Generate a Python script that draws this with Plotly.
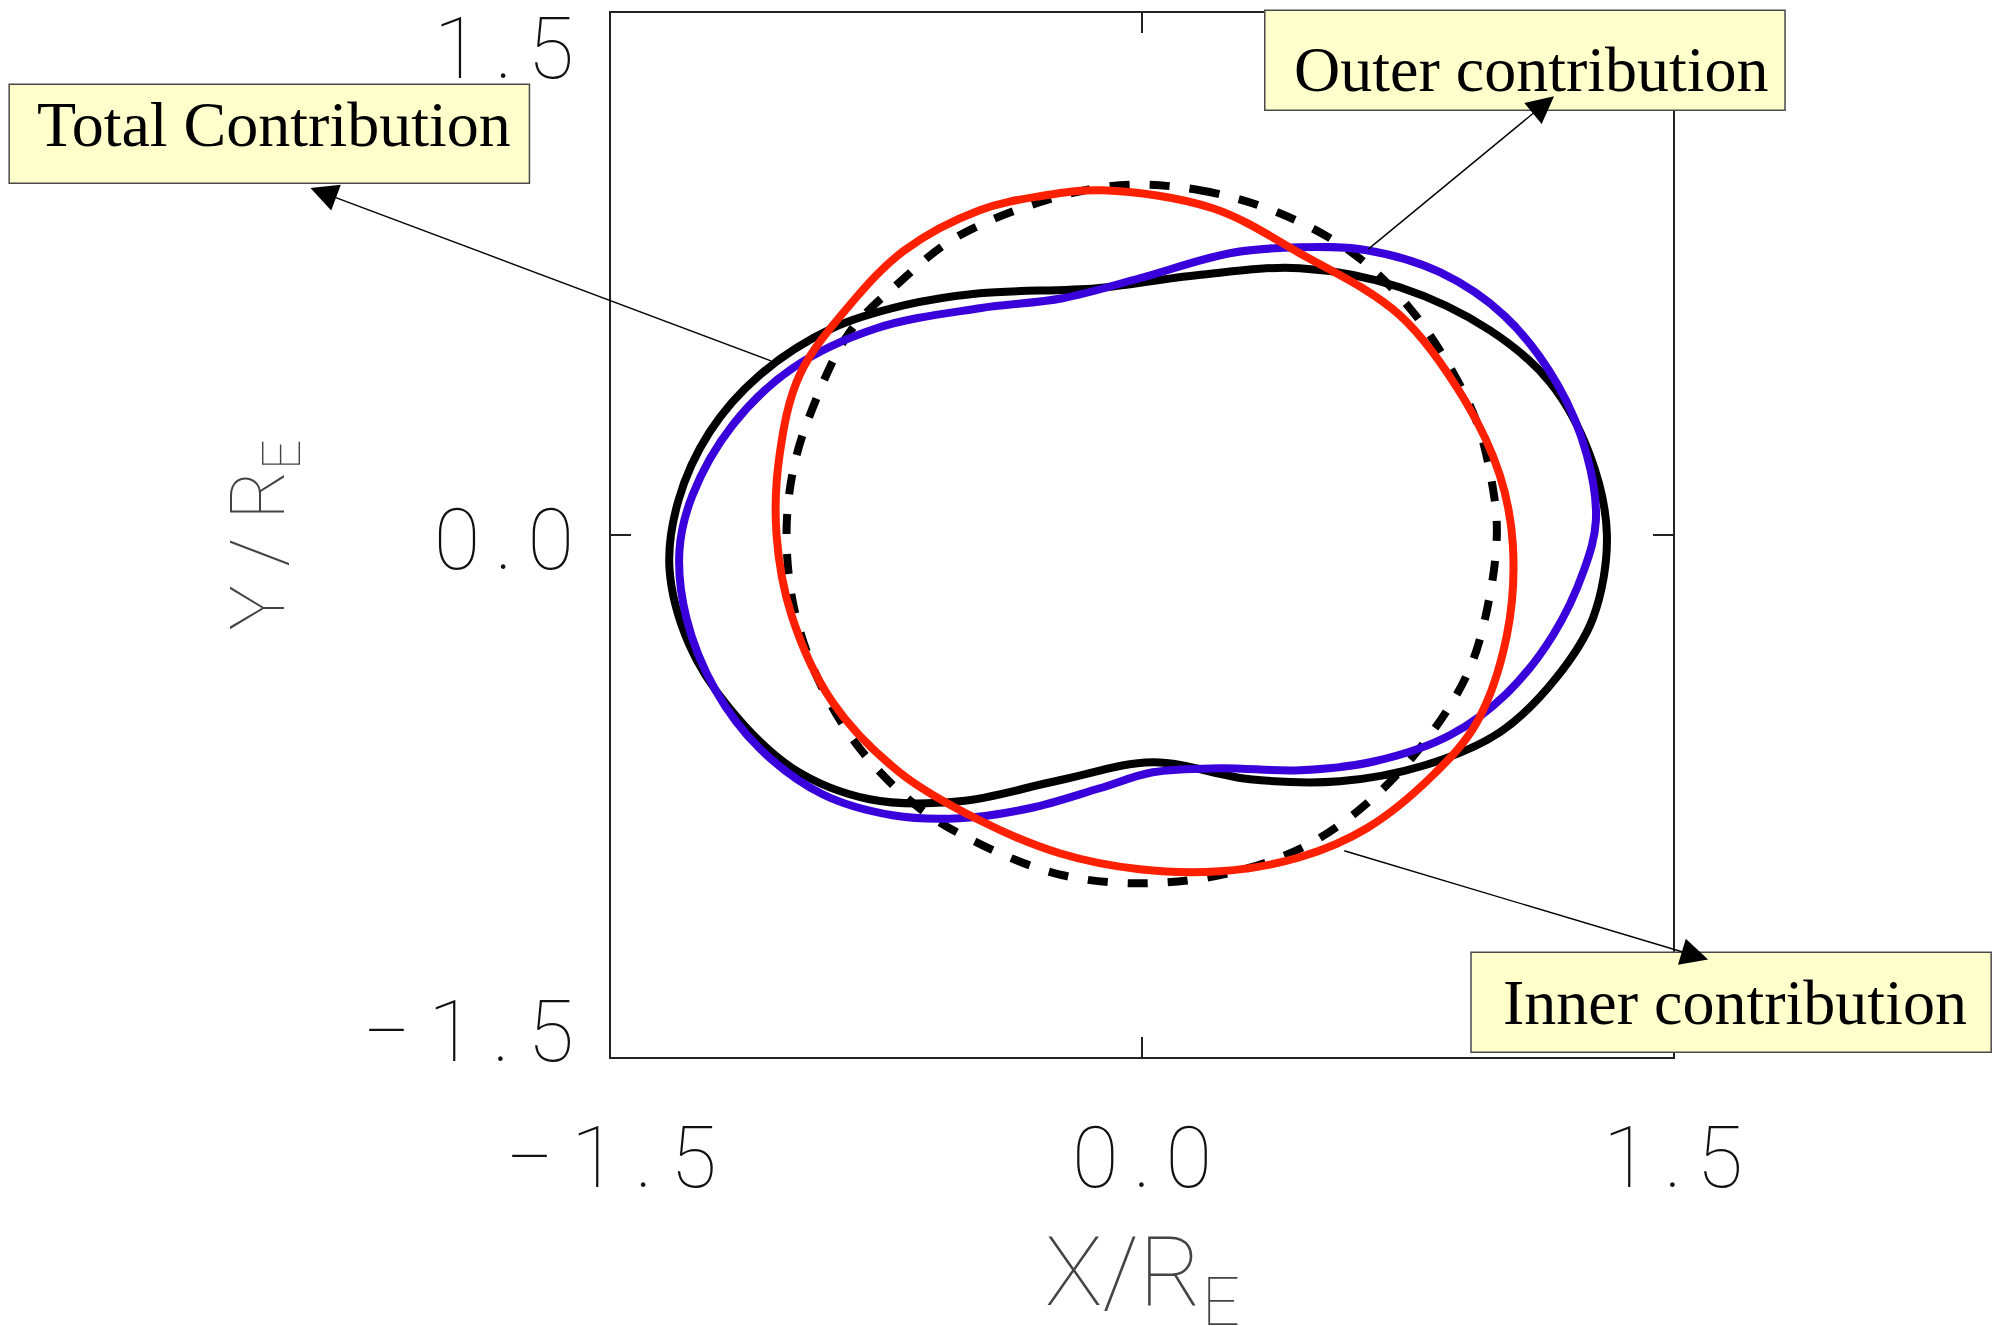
import plotly.graph_objects as go

# Closed contours in units of Earth radii, traced clockwise from the top.
# Total contribution (solid black)
total_x = [-0.4587, -0.1280, 0.1546, 0.4457, 0.7283, 0.9827, 1.1522, 1.2653, 1.3133, 1.2738,
           1.1692, 1.0109, 0.7990, 0.5587, 0.3044, 0.0302, -0.2326, -0.5152, -0.7696, -0.9872,
           -1.1652, -1.2783, -1.3348, -1.3094, -1.2218, -1.0805, -0.8741, -0.6707]
total_y = [0.6947, 0.7091, 0.7465, 0.7666, 0.7120, 0.5884, 0.4390, 0.2292, 0.0000, -0.2392,
           -0.4117, -0.5669, -0.6617, -0.7077, -0.7019, -0.6531, -0.7048, -0.7652, -0.7594, -0.6703,
           -0.4979, -0.3168, -0.0956, 0.0999, 0.2953, 0.4591, 0.5942, 0.6603]

# Outer contribution (blue)
outer_x = [-0.4587, -0.2241, -0.0065, 0.2479, 0.4457, 0.6350, 0.8414, 1.0251, 1.1749, 1.2568,
           1.2822, 1.2483, 1.1607, 1.0307, 0.8696, 0.6577, 0.4457, 0.2196, 0.0302, -0.1195,
           -0.3174, -0.5152, -0.7046, -0.9024, -1.0805, -1.2048, -1.2868, -1.3066, -1.2698, -1.1568,
           -0.9872, -0.7498]
outer_y = [0.6516, 0.6804, 0.7378, 0.8097, 0.8269, 0.8183, 0.7551, 0.6286, 0.4303, 0.2292,
           0.0424, -0.1013, -0.2881, -0.4548, -0.5755, -0.6502, -0.6761, -0.6703, -0.6818, -0.7278,
           -0.7853, -0.8140, -0.8054, -0.7450, -0.6128, -0.4462, -0.2392, -0.0438, 0.1142, 0.3154,
           0.4792, 0.5942]

# Inner contribution (red)
inner_x = [-0.1111, 0.1998, 0.4457, 0.7283, 0.9120, 1.0109, 1.0477, 1.0307, 0.9459, 0.8216,
           0.6350, 0.4457, 0.2196, -0.0065, -0.2326, -0.4587, -0.6848, -0.8741, -0.9900, -1.0324,
           -1.0239, -0.9674, -0.8261, -0.6707, -0.4587, -0.2891]
inner_y = [0.9907, 0.9390, 0.8097, 0.6315, 0.3872, 0.1717, -0.0295, -0.2881, -0.5381, -0.6904,
           -0.8427, -0.9261, -0.9663, -0.9606, -0.9146, -0.8198, -0.6818, -0.4806, -0.2306, 0.0000,
           0.2292, 0.4591, 0.6603, 0.8183, 0.9333, 0.9735]

# Reference contour (dashed black)
ref_x = [-0.0630, 0.1631, 0.3892, 0.5955, 0.7566, 0.8781, 0.9488, 0.9883, 1.0025, 0.9827,
         0.9261, 0.8131, 0.6520, 0.4655, 0.2563, 0.0133, -0.2241, -0.4502, -0.6283, -0.7978,
         -0.9109, -0.9815, -1.0042, -0.9844, -0.9307, -0.8261, -0.6848, -0.5293, -0.2891]
ref_y = [1.0051, 0.9907, 0.9246, 0.8097, 0.6516, 0.4677, 0.3154, 0.1516, 0.0137, -0.1731,
         -0.3829, -0.5755, -0.7565, -0.8916, -0.9692, -1.0008, -0.9778, -0.8916, -0.7853, -0.6128,
         -0.4232, -0.2163, 0.0000, 0.1918, 0.3642, 0.5826, 0.7263, 0.8528, 0.9562]

TS = "\u2009"  # thin space
SS = "\u2006"  # six-per-em space
tick_vals = [-1.5, 0.0, 1.5]
x_tick_text = [f"\u2212{TS}1{TS}.{TS}5", f"0{SS}.{SS}0", f"1{SS}.{SS}5"]
# y labels sit inside the frame span: top one below its tick, bottom one above
y_label_vals = [1.40, -0.011, -1.425]
y_label_text = [f"1{SS}.{SS}5", f"0{SS}.{SS}0", f"\u2212{TS}1{TS}.{TS}5"]

# Label texts with the curve point each arrow starts from and where it points to
label_texts = ["Total Contribution", "Outer contribution", "Inner contribution"]
arrow_tails = [(-1.044, 0.499), (0.635, 0.818), (0.567, -0.906)]
arrow_heads = [(-2.349, 0.997), (1.164, 1.261), (1.599, -1.220)]


def closed(v):
    return list(v) + [v[0]]


fig = go.Figure()

curve_specs = [
    (ref_x, ref_y, "black", "20px,20px"),
    (total_x, total_y, "black", "solid"),
    (outer_x, outer_y, "#3a00dc", "solid"),
    (inner_x, inner_y, "#ff2000", "solid"),
]
for cx, cy, col, dash in curve_specs:
    fig.add_trace(go.Scatter(
        x=closed(cx), y=closed(cy), mode="lines",
        line=dict(color=col, width=8, dash=dash, shape="spline", smoothing=1.0,
                  simplify=False),
        showlegend=False, hoverinfo="skip",
    ))

# empty trace so the label-only y axis is laid out
fig.add_trace(go.Scatter(x=[], y=[], yaxis="y2", showlegend=False, hoverinfo="skip"))

thin = "Roboto, Inter, DejaVu Sans"
tick_font = dict(family=thin, size=85, color="#111", weight=100)

fig.update_layout(
    template="none",
    width=2006, height=1326,
    margin=dict(l=611, r=333, t=13, b=269, autoexpand=False),
    paper_bgcolor="white", plot_bgcolor="white",
    xaxis=dict(
        range=[-1.5, 1.5], tickvals=tick_vals, ticktext=x_tick_text,
        ticks="inside", ticklen=20, tickwidth=1.5, tickcolor="#222",
        showline=True, linecolor="#222", linewidth=1.5, mirror="ticks",
        showgrid=False, zeroline=False, automargin=False,
        tickfont=tick_font, ticklabelstandoff=26, ticklabeloverflow="allow",
    ),
    yaxis=dict(
        range=[-1.5, 1.5], tickvals=tick_vals,
        ticks="inside", ticklen=20, tickwidth=1.5, tickcolor="#222",
        showline=True, linecolor="#222", linewidth=1.5, mirror="ticks",
        showgrid=False, zeroline=False, showticklabels=False, automargin=False,
    ),
    yaxis2=dict(
        overlaying="y", side="left", range=[-1.5, 1.5],
        tickvals=y_label_vals, ticktext=y_label_text,
        ticks="", showline=False, showgrid=False, zeroline=False, automargin=False,
        tickfont=tick_font, ticklabelstandoff=36, ticklabeloverflow="allow",
        title=dict(text="Y / R<sub>E</sub>", standoff=52,
                   font=dict(family=thin, size=76, color="#444", weight=100)),
    ),
)

# x-axis title, placed low so the subscript runs off the bottom edge
fig.add_annotation(xref="paper", yref="paper", x=0.5, y=-0.1507, xanchor="center",
                   yanchor="top", showarrow=False, text="X/R<sub>E</sub>",
                   font=dict(family=thin, size=96, color="#444", weight=100))

# yellow label boxes (paper coordinates) and their texts
boxes = [(-0.5667, 0.8369, -0.0768, 0.9318),
         (0.6156, 0.9069, 1.1055, 1.0027),
         (0.8098, 0.0045, 1.2996, 0.1003)]
text_pos = [(-0.3170, 0.8935), (0.8667, 0.9462), (1.0584, 0.0524)]
for (x0, y0, x1, y1), (tx, ty), txt in zip(boxes, text_pos, label_texts):
    fig.add_shape(type="rect", xref="paper", yref="paper", x0=x0, y0=y0, x1=x1, y1=y1,
                  fillcolor="#ffffcc", line=dict(color="#4a4a4a", width=1.5), layer="above")
    fig.add_annotation(xref="paper", yref="paper", x=tx, y=ty, text=txt, showarrow=False,
                       xanchor="center", yanchor="middle",
                       font=dict(family="Liberation Serif, Times New Roman, serif",
                                 size=64, color="black"))

for (hx, hy), (tx, ty) in zip(arrow_heads, arrow_tails):
    fig.add_annotation(x=hx, y=hy, ax=tx, ay=ty, xref="x", yref="y", axref="x", ayref="y",
                       text="", showarrow=True, arrowhead=2, arrowsize=3.9,
                       arrowwidth=1.4, arrowcolor="black", standoff=0)

fig.write_html("out.html")
